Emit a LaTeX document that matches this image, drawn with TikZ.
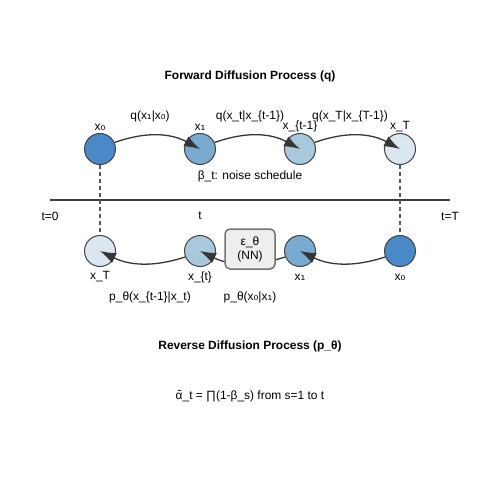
\documentclass[tikz,border=0pt]{standalone}
\usepackage{fontspec}
\setmainfont{Liberation Sans}
\newfontfamily\djv{DejaVu Sans}
\usetikzlibrary{arrows.meta}
\definecolor{cA}{HTML}{4A88C8}
\definecolor{cB}{HTML}{7AAAD0}
\definecolor{cC}{HTML}{A9C8DC}
\definecolor{cD}{HTML}{DBE6F1}
\definecolor{edge}{HTML}{444444}
\newcommand{\sbz}{{\djv ₀}}
\newcommand{\sbo}{{\djv ₁}}
\begin{document}
\begin{tikzpicture}[x=1bp,y=-1bp,
  st/.style={circle,draw=edge,line width=1bp,minimum size=31bp,inner sep=0pt},
  lbl/.style={font=\fontsize{12}{14}\selectfont,inner sep=0pt},
  ttl/.style={font=\fontsize{12}{14}\selectfont\bfseries,inner sep=0pt},
  arr/.style={draw=edge!80!black,line width=1.3bp,-{Latex[length=16bp,width=11bp]}},
  vdash/.style={draw=edge!90,line width=1.5bp,dash pattern=on 4bp off 3bp}]
\useasboundingbox (0,0) rectangle (500,500);
% titles
\node[ttl] (t1) at (250,76) {Forward Diffusion Process (q)};
\node[ttl] (t2) at (250,346) {Reverse Diffusion Process (p\_θ)};
\node[lbl] (form) at (250,396) {α{\djv ̄}\_t = ∏(1-β\_s) from s=1 to t};
% timeline
\coordinate (L0) at (50,200);
\coordinate (L1) at (450,200);
\draw[draw=edge!90!black,line width=2bp] (L0) -- (L1);
\node[lbl] (tz) at (50,216) {t=0};
\node[lbl] (tt) at (200,216) {t};
\node[lbl] (tT) at (450,216) {t=T};
% forward states
\node[st,fill=cA] (f0) at (100,149) {};
\node[st,fill=cB] (f1) at (200,149) {};
\node[st,fill=cC] (f2) at (300,149) {};
\node[st,fill=cD] (f3) at (400,149) {};
\node[lbl] (lf0) at (100,127) {x\sbz};
\node[lbl] (lf1) at (200,127) {x\sbo};
\node[lbl] (lf2) at (300,126) {x\_\{t-1\}};
\node[lbl] (lf3) at (400,127) {x\_T};
\node[lbl] (q1) at (150,116) {q(x\sbo|x\sbz)};
\node[lbl] (q2) at (250,116) {q(x\_t|x\_\{t-1\})};
\node[lbl] (q3) at (350,116) {q(x\_T|x\_\{T-1\})};
\node[lbl] (beta) at (250,176) {β\_t: noise schedule};
% reverse states
\node[st,fill=cD] (r0) at (100,251) {};
\node[st,fill=cC] (r1) at (200,251) {};
\node[st,fill=cB] (r2) at (300,251) {};
\node[st,fill=cA] (r3) at (400,251) {};
\node[lbl] (lr0) at (100,277) {x\_T};
\node[lbl] (lr1) at (200,277) {x\_\{t\}};
\node[lbl] (lr2) at (300,277) {x\sbo};
\node[lbl] (lr3) at (400,277) {x\sbz};
\node[lbl] (p1) at (150,297) {p\_θ(x\_\{t-1\}|x\_t)};
\node[lbl] (p2) at (250,297) {p\_θ(x\sbz|x\sbo)};
% dashed links
\draw[vdash] (f0) -- (r0);
\draw[vdash] (f3) -- (r3);
% forward arrows
\draw[arr] (f0) to[bend left=24] (f1.center);
\draw[arr] (f1) to[bend left=24] (f2.center);
\draw[arr] (f2) to[bend left=24] (f3.center);
% reverse arrows
\draw[arr] (r3) to[bend left=22] (r2.center);
\draw[arr] (r2) to[bend left=22] (r1.center);
\draw[arr] (r1) to[bend left=22] (r0.center);
% NN box
\node[draw=gray!90!black,fill=gray!13,line width=1.5bp,rounded corners=5bp,
  minimum width=50bp,minimum height=40bp,align=center,lbl] (nn) at (250,249)
  {ε\_θ\\(NN)};
\end{tikzpicture}
\end{document}
